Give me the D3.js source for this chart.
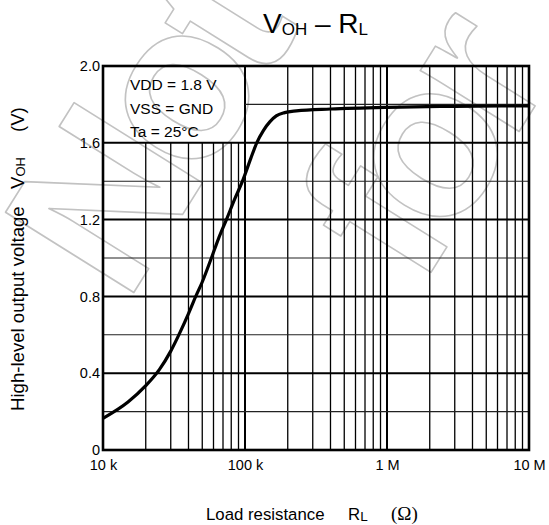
<!DOCTYPE html>
<html>
<head>
<meta charset="utf-8">
<script src="https://cdn.jsdelivr.net/npm/d3@7"></script>
<style>
  body { margin: 0; background: #fff; }
  svg text { font-family: "Liberation Sans", Arial, sans-serif; fill: #000; }
</style>
</head>
<body>
<svg></svg>
<script>
// Chart data
const rlOhm = [10000, 15000, 20000, 25000, 30000, 35000, 40000, 45000, 50000, 58000, 65000, 74000, 85000, 96000, 110000, 121000, 135000, 150000, 166000, 190000, 230000, 400000, 1000000, 3000000, 10000000]
const vohVolt = [0.165, 0.25, 0.335, 0.42, 0.515, 0.615, 0.71, 0.8, 0.875, 1.0, 1.1, 1.2, 1.31, 1.4, 1.52, 1.6, 1.665, 1.71, 1.74, 1.757, 1.766, 1.776, 1.785, 1.79, 1.792]

const yTicks = [0, 0.4, 0.8, 1.2, 1.6, 2.0]
const yMinor = [0.2, 0.6, 1.0, 1.4, 1.8]
const xDecades = [1e4, 1e5, 1e6, 1e7]
const xTickLabels = ['10 k', '100 k', '1 M', '10 M']
const conditions = ['VDD = 1.8 V', 'VSS = GND', 'Ta = 25°C']

const width = 549
const height = 525
const margin = {left: 103, right: 20, top: 66, bottom: 75}

const svg = d3.select('svg')
    .attr('width', width)
    .attr('height', height)

const x = d3.scaleLog()
    .domain([1e4, 1e7])
    .range([margin.left, width - margin.right])

const y = d3.scaleLinear()
    .domain([0, 2])
    .range([height - margin.bottom, margin.top])

// note box sits in the top-left corner (10k..100k, 1.6..2.0)
const boxR = x(1e5)
const boxB = y(1.6)

// watermark, outlined letters
const mark = svg.append('g')
    .attr('fill', 'none')
    .attr('stroke', '#c2c2c2')
    .attr('stroke-width', 1.6)
    .attr('stroke-linejoin', 'round')
mark.append('text')
    .attr('transform', 'translate(126,305) rotate(-58)')
    .style('font-size', '220px')
    .style('font-weight', 'bold')
    .style('letter-spacing', '-18px')
    .style('fill', 'none')
    .text('Not')
mark.append('text')
    .attr('transform', 'translate(420,290) rotate(-58)')
    .style('font-size', '220px')
    .style('font-weight', 'bold')
    .style('letter-spacing', '-18px')
    .style('fill', 'none')
    .text('for')

// minor decade values
let minorX = []
for (let d = 1e4; d < 1e7; d *= 10) {
    for (let k = 2; k <= 9; k++) minorX.push(d * k)
}

const grid = svg.append('g').attr('stroke', '#000')

grid.selectAll('.vminor')
    .data(minorX)
    .enter()
    .append('line')
    .attr('x1', d => x(d))
    .attr('x2', d => x(d))
    .attr('y1', d => d < 1e5 ? boxB : y(2))
    .attr('y2', y(0))
    .attr('stroke-width', 1.3)

grid.selectAll('.vmajor')
    .data(xDecades.slice(1, 3))
    .enter()
    .append('line')
    .attr('x1', d => x(d))
    .attr('x2', d => x(d))
    .attr('y1', y(2))
    .attr('y2', y(0))
    .attr('stroke-width', 2)

grid.selectAll('.hminor')
    .data(yMinor)
    .enter()
    .append('line')
    .attr('x1', d => d > 1.6 ? boxR : x(1e4))
    .attr('x2', x(1e7))
    .attr('y1', d => y(d))
    .attr('y2', d => y(d))
    .attr('stroke', '#222')
    .attr('stroke-width', 1.1)

grid.selectAll('.hmajor')
    .data(yTicks.slice(1, 5))
    .enter()
    .append('line')
    .attr('x1', x(1e4))
    .attr('x2', x(1e7))
    .attr('y1', d => y(d))
    .attr('y2', d => y(d))
    .attr('stroke-width', 2)

// frame
svg.append('rect')
    .attr('x', x(1e4))
    .attr('y', y(2))
    .attr('width', x(1e7) - x(1e4))
    .attr('height', y(0) - y(2))
    .attr('fill', 'none')
    .attr('stroke', '#000')
    .attr('stroke-width', 2.6)

// curve
const line = d3.line()
    .x((d, i) => x(rlOhm[i]))
    .y(d => y(d))
    .curve(d3.curveMonotoneX)

svg.append('path')
    .datum(vohVolt)
    .attr('d', line)
    .attr('fill', 'none')
    .attr('stroke', '#000')
    .attr('stroke-width', 3.2)
    .attr('stroke-linejoin', 'round')

// axes (labels only)
const yAxis = d3.axisLeft(y)
    .tickValues(yTicks)
    .tickSize(0)
    .tickPadding(3)
    .tickFormat(d => d === 0 ? '0' : d.toFixed(1))
svg.append('g')
    .attr('transform', 'translate(' + x(1e4) + ',0)')
    .call(yAxis)
    .call(g => g.select('.domain').remove())
    .selectAll('text')
    .style('font-family', '"Liberation Sans", Arial, sans-serif')
    .style('font-size', '14.5px')

const xAxis = d3.axisBottom(x)
    .tickValues(xDecades)
    .tickSize(0)
    .tickPadding(9.5)
    .tickFormat((d, i) => xTickLabels[i])
svg.append('g')
    .attr('transform', 'translate(0,' + y(0) + ')')
    .call(xAxis)
    .call(g => g.select('.domain').remove())
    .selectAll('text')
    .style('font-family', '"Liberation Sans", Arial, sans-serif')
    .style('font-size', '14.5px')

// conditions text in the box
svg.selectAll('.cond')
    .data(conditions)
    .enter()
    .append('text')
    .attr('x', 130)
    .attr('y', (d, i) => 90 + i * 23.5)
    .style('font-size', '15.5px')
    .text(d => d)

// title
const title = svg.append('text')
    .attr('x', 263)
    .attr('y', 33)
    .style('font-size', '28px')
title.append('tspan').text('V')
title.append('tspan').attr('dy', 2).style('font-size', '17px').text('OH')
title.append('tspan').attr('dy', -2).text(' – R')
title.append('tspan').attr('dy', 2).style('font-size', '17px').text('L')

// x title
const xt = svg.append('g').style('font-size', '16.8px')
xt.append('text').attr('x', 206).attr('y', 520).text('Load resistance')
const rl = xt.append('text').attr('x', 348).attr('y', 520)
rl.append('tspan').text('R')
rl.append('tspan').attr('dy', 1).style('font-size', '13.5px').text('L')
xt.append('text').attr('x', 391).attr('y', 520)
    .style('font-family', '"Liberation Serif", "Times New Roman", serif')
    .style('font-size', '19px')
    .text('(Ω)')

// y title
const yt = svg.append('g').style('font-size', '18.6px')
yt.append('text')
    .attr('transform', 'translate(24,411) rotate(-90)')
    .text('High-level output voltage')
const voh = yt.append('text')
    .attr('transform', 'translate(24,189) rotate(-90)')
voh.append('tspan').text('V')
voh.append('tspan').attr('dy', 1).style('font-size', '13px').text('OH')
yt.append('text')
    .attr('transform', 'translate(24,132) rotate(-90)')
    .text('(V)')
</script>
</body>
</html>
